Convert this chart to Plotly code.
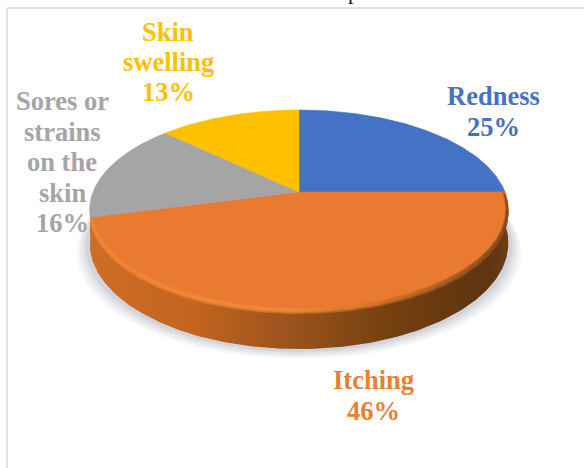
import numpy as np
import plotly.graph_objects as go

categories = ["Redness", "Itching", "Sores or strains on the skin", "Skin swelling"]
values = [25, 46, 16, 13]
percent_labels = ["25%", "46%", "16%", "13%"]
colors = ["#4472C4", "#E97A30", "#A5A5A5", "#FFC000"]
label_lines = [["Redness", "25%"], ["Itching", "46%"],
               ["Sores or", "strains", "on the", "skin", "16%"], ["Skin", "swelling", "13%"]]
label_centres = [(493, 96), (373, 380), (62, 101), (168, 32)]
line_steps = [31, 31, 30.5, 30]
label_colors = ["#4472C4", "#ED7D31", "#A5A5A5", "#FFC000"]

CX, CY, A, B, K, H = 299, 192, 96.8, 206, 0.18, 32


def project(theta, r=1.0):
    u, v = r * np.sin(theta), r * np.cos(theta)
    w = 1 + K * v
    return CX + B * u / w, CY - A * v / w, w


fractions = np.cumsum([0] + values) / sum(values)
fig = go.Figure()

# soft shadow under the disc
full = np.linspace(0, 2 * np.pi, 241)
for grow, alpha in [(13, .07), (10, .09), (7, .11), (4, .13)]:
    x, y, w = project(full)
    fig.add_trace(go.Scatter(x=CX + (x - CX) * (1 + grow / 210), y=y + H / w + grow * .75,
                             mode="lines", fill="toself", line=dict(width=0),
                             fillcolor=f"rgba(130,135,155,{alpha})", hoverinfo="skip"))

# outer wall of the visible front (Itching slice)
t = np.linspace(2 * np.pi * fractions[1], 2 * np.pi * fractions[2], 200)
x, y, w = project(t)
sx = np.concatenate([x, x[::-1]])
sy = np.concatenate([y, (y + H / w)[::-1]])
fig.add_trace(go.Scatter(
    x=sx, y=sy, mode="lines", fill="toself", line=dict(width=0), hoverinfo="skip",
    fillgradient=dict(type="horizontal", colorscale=[
        [0, "#cf6d25"], [.25, "#c2641f"], [.5, "#96521b"], [.72, "#74400f"], [.95, "#5f3410"], [1, "#6e3d13"]])))

# top faces
for frac0, frac1, c in zip(fractions[:-1], fractions[1:], colors):
    t = np.linspace(2 * np.pi * frac0, 2 * np.pi * frac1, 120)
    x, y, _ = project(t)
    fig.add_trace(go.Scatter(x=np.r_[CX, x, CX], y=np.r_[CY, y, CY], mode="lines", fill="toself",
                             line=dict(width=.6, color=c), fillcolor=c, hoverinfo="skip"))

# bevel along the front rim of the Itching slice (layered for a soft edge)
t = np.linspace(2 * np.pi * fractions[1], 2 * np.pi * fractions[2], 200)
for r_in, r_out, drop, opacity in [(.985, 1.0, 4, .5), (.99, 1.0, 2.5, .8), (.995, 1.0, 1, 1)]:
    xo, yo, _ = project(t, r_out)
    xi, yi, _ = project(t, r_in)
    fig.add_trace(go.Scatter(
        x=np.r_[xo, xi[::-1]], y=np.r_[yo + drop, yi[::-1]], mode="lines", fill="toself", line=dict(width=0),
        hoverinfo="skip", opacity=opacity,
        fillgradient=dict(type="horizontal", colorscale=[
            [0, "#ee8434"], [.45, "#f28a34"], [.68, "#d8742b"], [.88, "#a65a1e"], [1, "#80471a"]])))

# data labels, one annotation per text line
annotations = []
for lines, (lx, ly), step, c in zip(label_lines, label_centres, line_steps, label_colors):
    for i, s in enumerate(lines):
        annotations.append(dict(x=lx, y=ly + i * step, xref="x", yref="y", text=s, showarrow=False,
                                font=dict(family="Liberation Serif", size=26.5, color=c, weight="bold")))

# the only legible remnant of the text line cropped at the top edge
annotations.append(dict(x=353, y=0, xref="x", yref="y", text="p", showarrow=False, yshift=9,
                        font=dict(family="Liberation Serif", size=22, color="#111111")))

fig.update_layout(
    width=584, height=468, margin=dict(l=0, r=0, t=0, b=0), showlegend=False,
    paper_bgcolor="white", plot_bgcolor="white", annotations=annotations,
    shapes=[dict(type="line", xref="x", yref="y", x0=7, x1=7, y0=8, y1=468, line=dict(color="#d9d9d9", width=1.5)),
            dict(type="line", xref="x", yref="y", x0=7, x1=584, y0=8, y1=8, line=dict(color="#d9d9d9", width=1.5))],
    xaxis=dict(range=[0, 584], visible=False, fixedrange=True),
    yaxis=dict(range=[468, 0], visible=False, fixedrange=True),
)
fig.write_html("out.html", config=dict(displayModeBar=False),
               post_script="document.body.style.margin='0';document.body.style.overflow='hidden';")
